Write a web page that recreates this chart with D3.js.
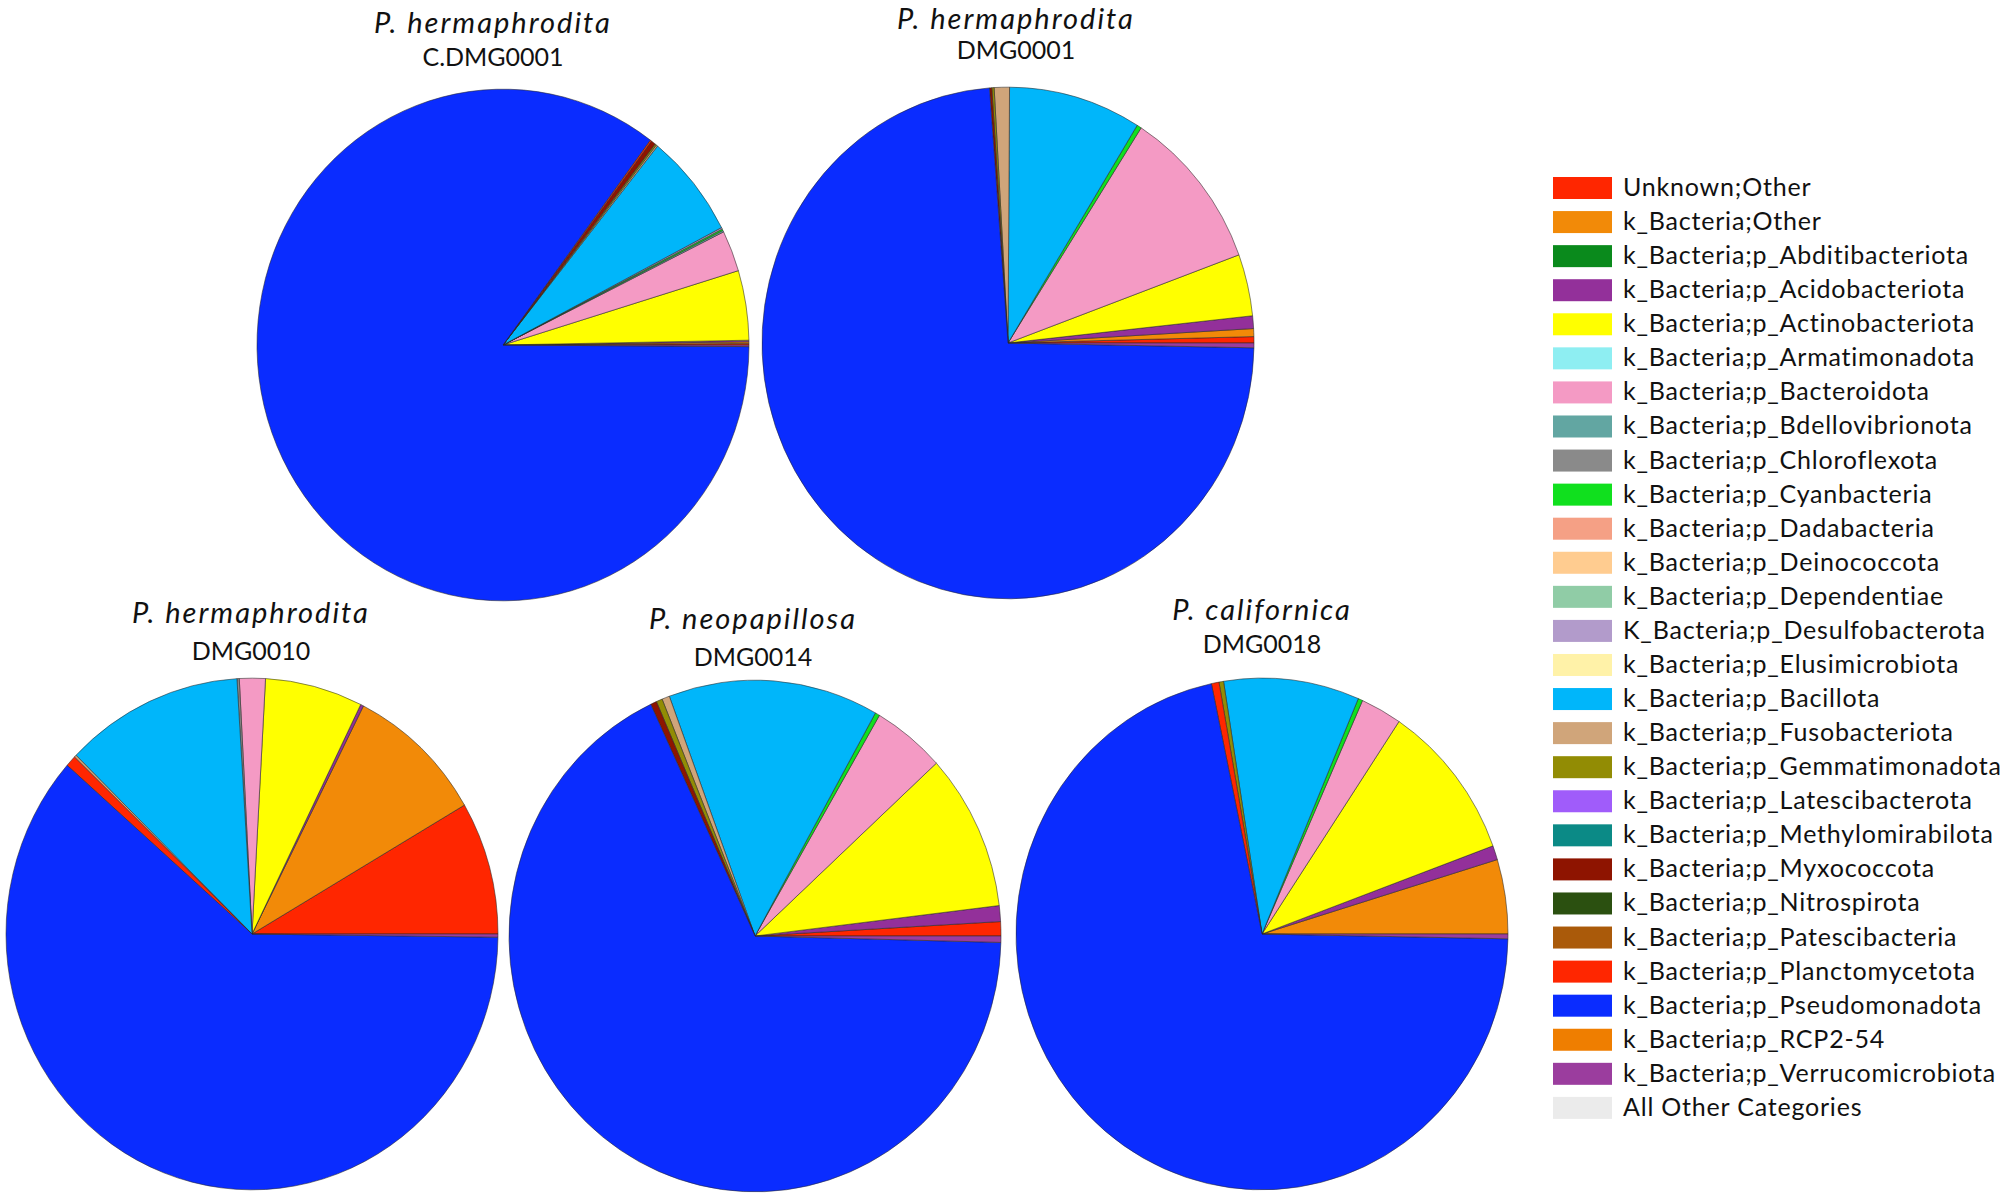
<!DOCTYPE html>
<html>
<head>
<meta charset="utf-8">
<script src="https://cdn.jsdelivr.net/npm/d3@7"></script>
<style>
  body { margin: 0; background: #fff; }
  svg { display: block; }
</style>
</head>
<body>
<div id="chart"></div>
<script>
// legend order = slice order (counter-clockwise from 3 o'clock)
const categories = [
  "Unknown;Other", "k_Bacteria;Other", "k_Bacteria;p_Abditibacteriota", "k_Bacteria;p_Acidobacteriota",
  "k_Bacteria;p_Actinobacteriota", "k_Bacteria;p_Armatimonadota", "k_Bacteria;p_Bacteroidota",
  "k_Bacteria;p_Bdellovibrionota", "k_Bacteria;p_Chloroflexota", "k_Bacteria;p_Cyanbacteria",
  "k_Bacteria;p_Dadabacteria", "k_Bacteria;p_Deinococcota", "k_Bacteria;p_Dependentiae",
  "K_Bacteria;p_Desulfobacterota", "k_Bacteria;p_Elusimicrobiota", "k_Bacteria;p_Bacillota",
  "k_Bacteria;p_Fusobacteriota", "k_Bacteria;p_Gemmatimonadota", "k_Bacteria;p_Latescibacterota",
  "k_Bacteria;p_Methylomirabilota", "k_Bacteria;p_Myxococcota", "k_Bacteria;p_Nitrospirota",
  "k_Bacteria;p_Patescibacteria", "k_Bacteria;p_Planctomycetota", "k_Bacteria;p_Pseudomonadota",
  "k_Bacteria;p_RCP2-54", "k_Bacteria;p_Verrucomicrobiota", "All Other Categories"
];

const colors = [
  "#ff2600", "#f28a08", "#0a8a1c", "#93309a", "#ffff00", "#8eeef2", "#f49ac4",
  "#62a6a2", "#8a8a8a", "#10e01e", "#f5a085", "#ffcc90", "#90cca6",
  "#b29bcb", "#fff2a8", "#00b6fa", "#d0a57a", "#928c04", "#a05cfa",
  "#0b8a86", "#8e1400", "#2b5010", "#aa5a0a", "#ff2600", "#0a2cff",
  "#ef7e00", "#9b3d9e", "#ebebeb"
];

const species = ["P. hermaphrodita", "P. hermaphrodita", "P. hermaphrodita", "P. neopapillosa", "P. californica"];
const sampleIds = ["C.DMG0001", "DMG0001", "DMG0010", "DMG0014", "DMG0018"];

// relative abundance (%), same order as categories
const valsCDMG0001 = [0.1, 0.1, 0, 0.1, 4.4, 0, 2.6, 0.1, 0, 0.1, 0, 0, 0, 0.1, 0, 6.6, 0.1, 0.1, 0, 0, 0.3, 0, 0, 0.1, 85.2, 0, 0.1, 0];
const valsDMG0001  = [0.4, 0.5, 0, 0.8, 3.9, 0, 10.3, 0, 0, 0.3, 0, 0, 0, 0, 0, 8.7, 1.0, 0.15, 0, 0, 0.15, 0, 0, 0, 73.5, 0, 0.3, 0];
const valsDMG0010  = [8.4, 9.1, 0, 0.2, 6.4, 0, 1.7, 0, 0.15, 0, 0, 0, 0, 0, 0, 11.7, 0.15, 0, 0, 0, 0, 0, 0, 0.7, 61.2, 0, 0.2, 0];
const valsDMG0014  = [0.9, 0, 0, 1.0, 9.9, 0, 4.75, 0, 0, 0.3, 0, 0, 0, 0, 0, 13.8, 0.5, 0.4, 0, 0, 0.4, 0, 0, 0, 67.6, 0, 0.4, 0];
const valsDMG0018  = [0, 4.7, 0, 0.9, 10.0, 0, 2.7, 0, 0, 0.3, 0, 0, 0, 0, 0, 8.9, 0, 0.3, 0, 0, 0, 0, 0, 0.5, 71.4, 0, 0.3, 0];

const samples = [valsCDMG0001, valsDMG0001, valsDMG0010, valsDMG0014, valsDMG0018];

var svgWidth = 2008;
var svgHeight = 1196;

var svg = d3.select("#chart")
  .append("svg")
  .attr("width", svgWidth)
  .attr("height", svgHeight);

// pie layout in the figure
var centers = [[503, 345], [1008, 343], [252, 934], [755, 936], [1262, 934]];
var radius = 246;
var stretchY = 1.04; // the original pies are a bit taller than wide

var color = d3.scaleOrdinal().domain(categories).range(colors);

var pie = d3.pie()
  .sort(null)
  .value(function(d) { return d.value; })
  .startAngle(Math.PI / 2)
  .endAngle(Math.PI / 2 - 2 * Math.PI);

var arc = d3.arc().innerRadius(0).outerRadius(radius);

samples.forEach(function(vals, i) {
  var data = vals.map(function(v, j) { return { cat: categories[j], value: v }; })
    .filter(function(d) { return d.value > 0; });

  var g = svg.append("g")
    .attr("transform", "translate(" + centers[i][0] + "," + centers[i][1] + ") scale(1," + stretchY + ")");

  g.selectAll("path")
    .data(pie(data))
    .enter()
    .append("path")
    .attr("d", arc)
    .attr("fill", function(d) { return color(d.data.cat); })
    .attr("stroke", "#2a2a2a")
    .attr("stroke-opacity", 0.7)
    .attr("stroke-width", 0.8)
    .attr("vector-effect", "non-scaling-stroke")
    .attr("stroke-linejoin", "round");
});

// titles
var titleY = [[33, 66], [29, 59], [623, 660], [629, 666], [620, 653]];
var titleX = [493, 1016, 251, 753, 1262];

species.forEach(function(s, i) {
  svg.append("text")
    .attr("x", titleX[i])
    .attr("y", titleY[i][0])
    .attr("text-anchor", "middle")
    .attr("font-family", "Lato, 'Open Sans', sans-serif")
    .attr("font-style", "italic")
    .attr("font-size", 29)
    .attr("letter-spacing", "2px")
    .attr("fill", "#111")
    .text(s);

  svg.append("text")
    .attr("x", titleX[i])
    .attr("y", titleY[i][1])
    .attr("text-anchor", "middle")
    .attr("font-family", "Lato, 'Open Sans', sans-serif")
    .attr("font-size", 25)
    .attr("fill", "#111")
    .text(sampleIds[i]);
});

// legend
var legend = svg.append("g").attr("transform", "translate(1553,177)");
var rowH = 34.07;

var rows = legend.selectAll("g")
  .data(categories)
  .enter()
  .append("g")
  .attr("transform", function(d, i) { return "translate(0," + (i * rowH) + ")"; });

rows.append("rect")
  .attr("width", 59)
  .attr("height", 22)
  .attr("fill", function(d) { return color(d); });

rows.append("text")
  .attr("x", 70)
  .attr("y", 19)
  .attr("font-family", "Lato, 'Open Sans', sans-serif")
  .attr("font-size", 25)
  .attr("letter-spacing", "0.8px")
  .attr("fill", "#111")
  .text(function(d) { return d; });
</script>
</body>
</html>
